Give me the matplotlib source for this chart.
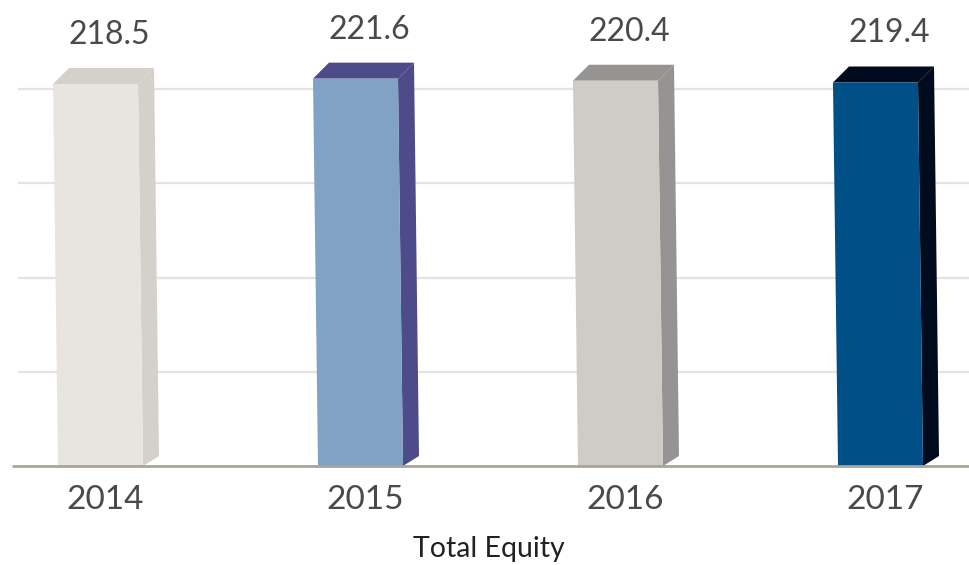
import matplotlib
matplotlib.use("Agg")
import matplotlib.pyplot as plt
from matplotlib.patches import Polygon

plt.rcParams["font.family"] = ["Lato", "DejaVu Sans"]

# Data
years = ["2014", "2015", "2016", "2017"]
equity = [218.5, 221.6, 220.4, 219.4]
front_colors = ["#e8e5e0", "#7fa2c5", "#cfcbc5", "#004f87"]
side_colors = ["#d4d0ca", "#4d4b8a", "#959492", "#000b1d"]
grid_step = 53.9

# figure geometry (pixels)
W, H = 969, 565
fig = plt.figure(figsize=(W / 100, H / 100), dpi=100)
ax_left, ax_right, ax_bottom, ax_top = 12, 969, 466, 0
ax = fig.add_axes([ax_left / W, (H - ax_bottom) / H,
                   (ax_right - ax_left) / W, (ax_bottom - ax_top) / H])

px_per_unit_y = 1.748
spacing = 260.0
x0 = 95.5  # pixel of first bar front centre
ax.set_xlim(-(x0 - ax_left) / spacing, (ax_right - x0) / spacing)
ax.set_ylim(0, (ax_bottom - ax_top) / px_per_unit_y)
ax.axis("off")

# style constants converted to data units
bw = 85 / spacing
lean = 5 / spacing
ddx = 16 / spacing
ddy_top = 16 / px_per_unit_y
ddy_bot = 10 / px_per_unit_y

# gridlines
g = grid_step
while g < ax.get_ylim()[1] - 10:
    ax.plot([(18 - x0) / spacing, ax.get_xlim()[1]], [g, g], color="#e6e3df",
            lw=1.6, zorder=0, solid_capstyle="butt")
    g += grid_step

ax.plot([ax.get_xlim()[0], ax.get_xlim()[1]], [0, 0], color="#aaa398", lw=2,
        zorder=5, solid_capstyle="butt", clip_on=False)

for i, (yr, v, fc, sc) in enumerate(zip(years, equity, front_colors, side_colors)):
    l = i - bw / 2
    r = i + bw / 2
    front = [(l, v), (r, v), (r + lean, 0), (l + lean, 0)]
    side = [(r, v), (r + ddx, v + ddy_top), (r + lean + ddx, ddy_bot), (r + lean, 0)]
    top = [(l, v), (l + ddx, v + ddy_top), (r + ddx, v + ddy_top), (r, v)]
    ax.add_patch(Polygon(side, closed=True, facecolor=sc, edgecolor="none", zorder=2))
    ax.add_patch(Polygon(top, closed=True, facecolor=sc, edgecolor="none", zorder=2))
    ax.add_patch(Polygon(front, closed=True, facecolor=fc, edgecolor="none", zorder=3))

    ax.annotate(f"{v:.1f}", xy=(i, v + ddy_top), xytext=(10, 13),
                textcoords="offset points", ha="center", va="bottom",
                fontsize=23, color="#4a4a4a", annotation_clip=False)
    ax.annotate(yr, xy=(i, 0), xytext=(7, -14), textcoords="offset points",
                ha="center", va="top", fontsize=24, color="#4a4a4a",
                annotation_clip=False)

fig.text(489 / W, 1 - 549 / H, "Total Equity", ha="center", va="center",
         fontsize=20.5, color="#222222")

fig.savefig("out.png", dpi=100)
